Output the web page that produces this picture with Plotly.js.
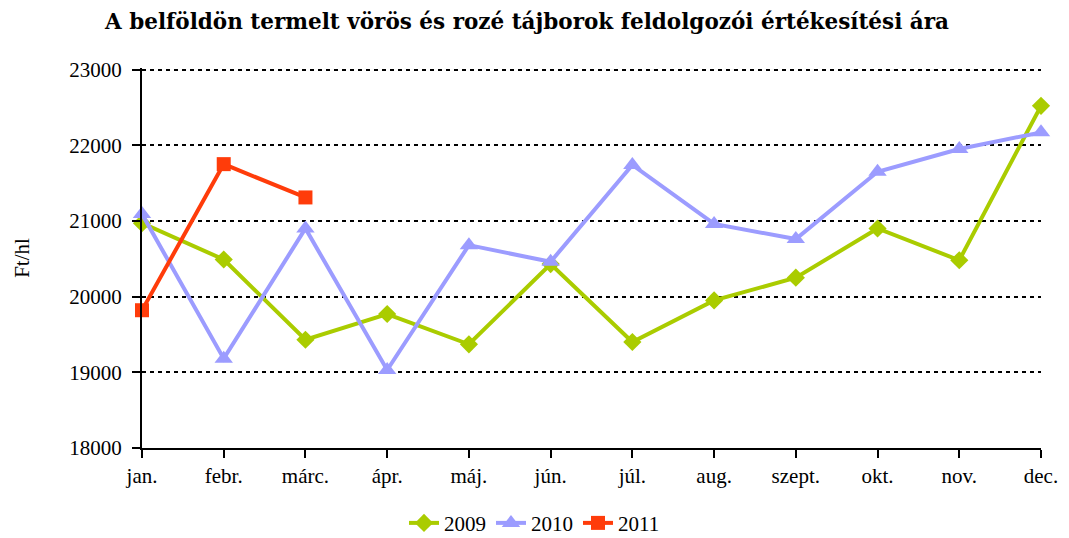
<!DOCTYPE html>
<html>
<head>
<meta charset="utf-8">
<script src="https://cdn.plot.ly/plotly-3.0.1.min.js"></script>
<style>html,body{margin:0;padding:0;background:#fff;}#chart{width:1069px;height:538px;}</style>
</head>
<body>
<div id="chart"></div>
<script>
const months = ["jan.", "febr.", "márc.", "ápr.", "máj.", "jún.", "júl.", "aug.", "szept.", "okt.", "nov.", "dec."];
const values2009 = [20970, 20490, 19430, 19770, 19370, 20430, 19400, 19950, 20250, 20900, 20480, 22520];
const values2010 = [21090, 19180, 20900, 19030, 20680, 20460, 21740, 20960, 20760, 21650, 21950, 22170];
const values2011 = [19820, 21750, 21310];
const seriesNames = ["2009", "2010", "2011"];
const yMin = 18000, yMax = 23000;

const font = "'Liberation Serif', 'Times New Roman', serif";
const titleFont = "'DejaVu Serif', serif";
const traces = [
  {x: months, y: values2009, name: seriesNames[0], mode: "lines+markers", cliponaxis: false,
   line: {color: "#AACC00", width: 4}, marker: {symbol: "diamond", size: 14, color: "#AACC00"}},
  {x: months, y: values2010, name: seriesNames[1], mode: "lines+markers", cliponaxis: false,
   line: {color: "#9C9CFF", width: 4}, marker: {symbol: "triangle-up", size: 16, color: "#9C9CFF"}},
  {x: months.slice(0, values2011.length), y: values2011, name: seriesNames[2], mode: "lines+markers", cliponaxis: false,
   line: {color: "#FF3C0A", width: 4}, marker: {symbol: "square", size: 14, color: "#FF3C0A"}}
];

const layout = {
  width: 1069, height: 538,
  margin: {l: 142, r: 28, t: 68, b: 90, autoexpand: false},
  paper_bgcolor: "#fff", plot_bgcolor: "#fff",
  font: {family: font, size: 21, color: "#000"},
  title: {text: "<b>A belföldön termelt vörös és rozé tájborok feldolgozói értékesítési ára</b>",
          font: {family: titleFont, size: 21.5, color: "#000"}, x: 0.493, xanchor: "center", xref: "container", y: 0.96, yanchor: "middle"},
  xaxis: {type: "category", range: [0, 11], showgrid: false, zeroline: false,
          showline: true, linecolor: "#000", linewidth: 2,
          ticks: "outside", ticklen: 8, tickwidth: 2, tickcolor: "#000",
          tickfont: {family: font, size: 21, color: "#000"}, fixedrange: true},
  yaxis: {range: [yMin, yMax + 20], dtick: 1000, tick0: yMin, showgrid: true,
          gridcolor: "#000", gridwidth: 2, griddash: "4px,4px",
          zeroline: false, showline: true, linecolor: "#000", linewidth: 2,
          ticks: "outside", ticklen: 8, tickwidth: 2, tickcolor: "#000", ticklabelstandoff: 6,
          tickfont: {family: font, size: 21, color: "#000"}, tickformat: "d",
          title: {text: "Ft/hl", font: {family: font, size: 21, color: "#000"}, standoff: 34}},
  legend: {orientation: "h", x: 0.5, xref: "container", xanchor: "center", y: -0.198, yanchor: "middle",
           font: {family: font, size: 21, color: "#000"}, itemwidth: 30, tracegroupgap: 0},
  showlegend: true
};

Plotly.newPlot("chart", traces, layout, {displayModeBar: false, staticPlot: true});
</script>
</body>
</html>
